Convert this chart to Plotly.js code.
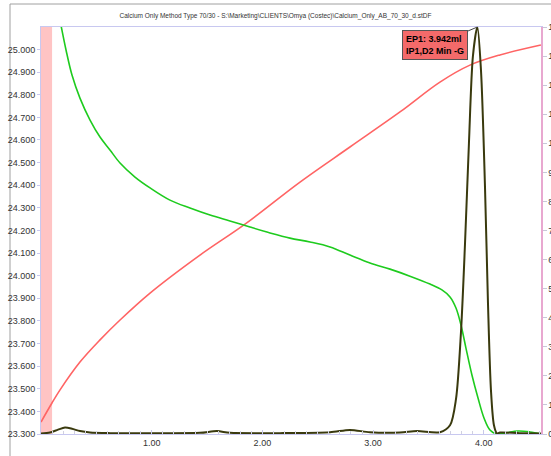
<!DOCTYPE html>
<html><head><meta charset="utf-8">
<script src="https://cdn.plot.ly/plotly-3.0.1.min.js"></script>
<style>html,body{margin:0;padding:0;background:#fff;}#c{width:551px;height:456px;}</style>
</head><body><div id="c"></div>
<script>
// Titrant volume (ml)
const redX = [0.000,0.099,0.172,0.352,0.533,0.714,0.985,1.436,1.843,2.340,2.791,3.243,3.604,3.875,4.146,4.516];
const redY = [23.353,23.437,23.495,23.618,23.716,23.804,23.923,24.091,24.228,24.414,24.569,24.724,24.856,24.931,24.976,25.020];

const greenX = [0.154,0.226,0.280,0.352,0.443,0.533,0.623,0.714,0.849,0.985,1.165,1.346,1.527,1.707,1.888,2.069,2.249,2.430,2.611,2.791,2.972,3.153,3.333,3.514,3.622,3.695,3.749,3.794,3.839,3.893,3.948,4.002,4.056,4.119,4.191,4.309,4.417,4.516];
const greenY = [25.174,24.998,24.887,24.785,24.688,24.613,24.556,24.498,24.436,24.388,24.334,24.299,24.268,24.242,24.215,24.189,24.166,24.149,24.127,24.091,24.056,24.029,23.998,23.963,23.937,23.906,23.857,23.782,23.680,23.561,23.459,23.371,23.318,23.300,23.304,23.313,23.309,23.300];

const derivX = [0.000,0.081,0.154,0.217,0.280,0.352,0.443,0.623,0.985,1.436,1.590,1.707,2.159,2.611,2.791,2.972,3.243,3.397,3.604,3.695,3.749,3.794,3.830,3.866,3.902,3.942,3.975,4.011,4.038,4.065,4.092,4.119,4.146,4.327,4.516];
const derivY = [0.02,0.05,0.15,0.22,0.18,0.10,0.05,0.03,0.03,0.04,0.10,0.04,0.03,0.06,0.14,0.06,0.05,0.10,0.06,0.30,1.2,3.5,6.5,10,13,14,12.5,8.5,4.5,1.5,0.3,0.02,0.05,0.03,0.02];

const xTickVals = [1,2,3,4];
const xTickText = ["1.00","2.00","3.00","4.00"];
const epX = 3.942;
const epLabel = "EP1: 3.942ml<br>IP1,D2 Min -G";
const titleText = "Calcium Only Method Type 70/30 - S:\\Marketing\\CLIENTS\\Omya (Costec)\\Calcium_Only_AB_70_30_d.stDF";

const traces = [
  {x: redX, y: redY, type:'scatter', mode:'lines', line:{color:'#ff6464', width:1.6, shape:'spline'}, yaxis:'y', hoverinfo:'skip'},
  {x: greenX, y: greenY, type:'scatter', mode:'lines', line:{color:'#1ecb1e', width:1.6, shape:'spline'}, yaxis:'y', hoverinfo:'skip'},
  {x: derivX, y: derivY, type:'scatter', mode:'lines', line:{color:'#3a3a0e', width:2, shape:'spline', smoothing:0.8}, yaxis:'y2', hoverinfo:'skip'}
];

const fnt = {family:'"Liberation Sans", Arial, sans-serif', size:9, color:'#333'};
const layout = {
  width:551, height:456,
  margin:{l:41, r:10, t:27, b:22, pad:0},
  paper_bgcolor:'#ffffff', plot_bgcolor:'#ffffff',
  showlegend:false,
  title:{text:titleText, font:{family:'"Liberation Sans", Arial, sans-serif', size:6.5, color:'#333'}, x:0.5, xanchor:'center', y:1-16/456, yanchor:'middle', yref:'container'},
  xaxis:{range:[0,4.517], tickvals:xTickVals, ticktext:xTickText, ticks:'inside', ticklen:4, tickcolor:'#c8c8e8',
    minor:{dtick:0.1, tick0:0, ticks:'inside', ticklen:3, tickcolor:'#d0d0e0', showgrid:false},
    showgrid:false, zeroline:false, showline:true, linecolor:'#c8c8f0', linewidth:1, mirror:true,
    tickfont:fnt, automargin:false},
  yaxis:{range:[23.3,25.0995], tick0:23.3, dtick:0.1, tickformat:'.3f', ticks:'outside', ticklen:3, tickcolor:'#c8c8f0',
    showgrid:false, zeroline:false, showline:true, linecolor:'#c8c8f0', linewidth:1,
    tickfont:fnt, automargin:false},
  yaxis2:{range:[0,14], dtick:1, overlaying:'y', side:'right', ticks:'outside', ticklen:4, tickcolor:'#c8c8d8',
    showgrid:false, zeroline:false, showline:true, linecolor:'#e8a8d0', linewidth:1.5,
    tickfont:fnt, automargin:false},
  shapes:[
    {type:'rect', xref:'x', yref:'paper', x0:0, x1:0.1, y0:0, y1:1, fillcolor:'#ffc4c4', line:{width:0}, layer:'below'},
    {type:'rect', xref:'paper', yref:'paper', x0:(10-41)/500, x1:1.1, y0:-0.2, y1:(434-4)/407, fillcolor:'rgba(0,0,0,0)', line:{color:'#a0a0a0', width:1}, layer:'below'}
  ],
  annotations:[
    {x:epX, y:14, xref:'x', yref:'y2', text:epLabel, showarrow:true, arrowhead:0, arrowwidth:1, arrowcolor:'#444',
     ax:-42, ay:18, bgcolor:'#f46a6a', bordercolor:'#555', borderwidth:1, borderpad:3, align:'left',
     font:{family:'"Liberation Sans", Arial, sans-serif', size:9, color:'#000', weight:'bold'}}
  ]
};
Plotly.newPlot('c', traces, layout, {staticPlot:true, displayModeBar:false});
</script></body></html>
